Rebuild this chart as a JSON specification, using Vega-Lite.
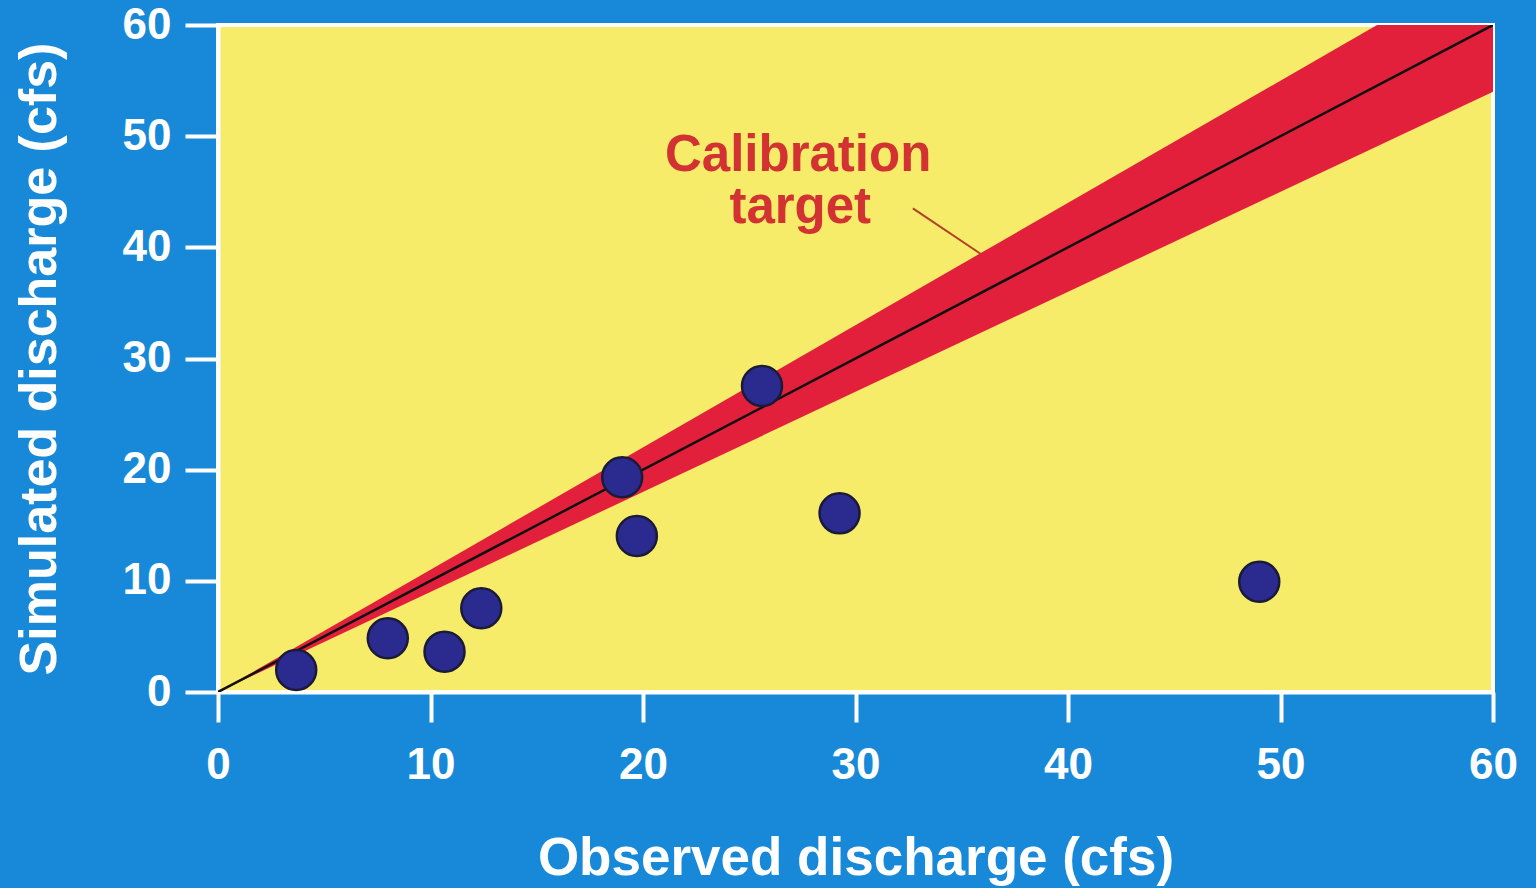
{
  "$schema": "https://vega.github.io/schema/vega-lite/v6.json",
  "autosize": "none",
  "width": 1275,
  "height": 667,
  "padding": {"left": 218, "top": 25, "right": 43, "bottom": 196},
  "background": "#1889d8",
  "config": {
    "view": {"fill": "#f7eb6a", "stroke": "#ffffff", "strokeWidth": 4},
    "font": "Liberation Sans"
  },
  "datasets": {
    "obs": [
      {"observed": 3.68, "simulated": 1.98},
      {"observed": 7.99, "simulated": 4.83},
      {"observed": 10.66, "simulated": 3.63},
      {"observed": 12.39, "simulated": 7.53},
      {"observed": 19.02, "simulated": 19.31},
      {"observed": 19.71, "simulated": 14.03},
      {"observed": 25.6, "simulated": 27.53},
      {"observed": 29.25, "simulated": 16.07},
      {"observed": 49.0, "simulated": 9.92}
    ],
    "band": [
      {"observed": 0, "lower": 0, "upper": 0, "line": 0},
      {"observed": 60, "lower": 54, "upper": 66, "line": 60}
    ],
    "label": [
      {"x": 27.3, "y": 46.9, "text": "Calibration"},
      {"x": 27.4, "y": 42.2, "text": "target"}
    ],
    "leader": [
      {"x": 32.7, "y": 43.5, "x2": 35.9, "y2": 39.4}
    ]
  },
  "layer": [
    {
      "data": {"name": "band"},
      "mark": {"type": "area", "color": "#e2203c", "clip": true, "opacity": 1},
      "encoding": {
        "x": {
          "field": "observed", "type": "quantitative",
          "scale": {"domain": [0, 60], "nice": false, "zero": true},
          "axis": {
            "title": "Observed discharge (cfs)",
            "values": [0, 10, 20, 30, 40, 50, 60],
            "grid": false,
            "domainColor": "#ffffff", "domainWidth": 4,
            "tickColor": "#ffffff", "tickWidth": 4, "tickSize": 30,
            "labelColor": "#ffffff", "labelFont": "Liberation Sans", "labelFontWeight": "bold", "labelFontSize": 44,
            "labelPadding": 21, "labelFlush": false,
            "titleColor": "#ffffff", "titleFont": "Liberation Sans", "titleFontWeight": "bold", "titleFontSize": 53,
            "titlePadding": 45
          }
        },
        "y": {
          "field": "lower", "type": "quantitative",
          "scale": {"domain": [0, 60], "nice": false, "zero": true},
          "axis": {
            "title": "Simulated discharge (cfs)",
            "values": [0, 10, 20, 30, 40, 50, 60],
            "grid": false,
            "domainColor": "#ffffff", "domainWidth": 4,
            "tickColor": "#ffffff", "tickWidth": 4, "tickSize": 33,
            "labelColor": "#ffffff", "labelFont": "Liberation Sans", "labelFontWeight": "bold", "labelFontSize": 44,
            "labelPadding": 14, "labelFlush": false,
            "titleColor": "#ffffff", "titleFont": "Liberation Sans", "titleFontWeight": "bold", "titleFontSize": 52,
            "titlePadding": 56
          }
        },
        "y2": {"field": "upper"}
      }
    },
    {
      "data": {"name": "band"},
      "mark": {"type": "line", "color": "#111111", "strokeWidth": 2.5, "clip": true},
      "encoding": {
        "x": {"field": "observed", "type": "quantitative"},
        "y": {"field": "line", "type": "quantitative"}
      }
    },
    {
      "data": {"name": "leader"},
      "mark": {"type": "rule", "color": "#b0402a", "strokeWidth": 2},
      "encoding": {
        "x": {"field": "x", "type": "quantitative"},
        "y": {"field": "y", "type": "quantitative"},
        "x2": {"field": "x2"},
        "y2": {"field": "y2"}
      }
    },
    {
      "data": {"name": "label"},
      "mark": {"type": "text", "color": "#d23232", "font": "Liberation Sans", "fontWeight": "bold", "fontSize": 51, "align": "center", "baseline": "alphabetic"},
      "encoding": {
        "x": {"field": "x", "type": "quantitative"},
        "y": {"field": "y", "type": "quantitative"},
        "text": {"field": "text"}
      }
    },
    {
      "data": {"name": "obs"},
      "mark": {"type": "point", "shape": "circle", "filled": true, "fill": "#2b2b8f", "stroke": "#1a1a3a", "strokeWidth": 2.5, "opacity": 1, "size": 1600},
      "encoding": {
        "x": {"field": "observed", "type": "quantitative"},
        "y": {"field": "simulated", "type": "quantitative"}
      }
    }
  ]
}
